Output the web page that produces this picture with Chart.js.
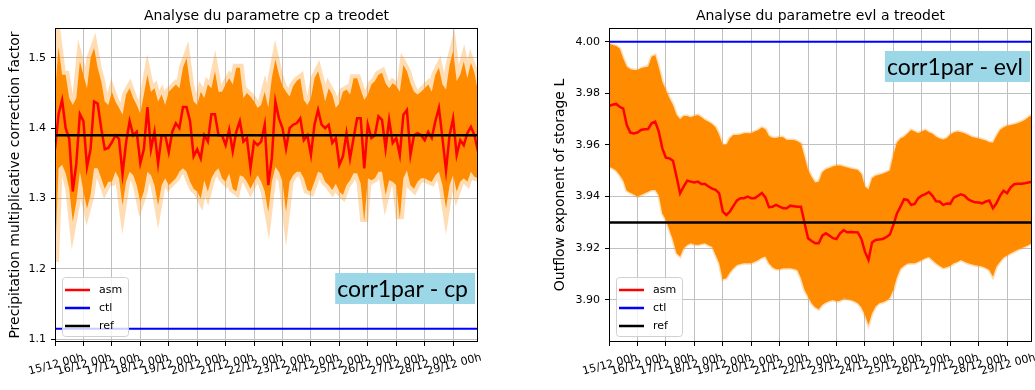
<!DOCTYPE html>
<html>
<head>
<meta charset="utf-8">
<script src="https://cdn.jsdelivr.net/npm/chart.js@4.4.1/dist/chart.umd.min.js"></script>
<style>
  html, body { margin: 0; padding: 0; background: #fff; }
  #wrap { position: relative; width: 1035px; height: 390px; }
  #cpChart { position: absolute; left: 0; top: 0; }
  #evlChart { position: absolute; left: 520px; top: 0; }
</style>
</head>
<body>
<div id="wrap">
  <canvas id="cpChart" width="500" height="390"></canvas>
  <canvas id="evlChart" width="515" height="390"></canvas>
</div>
<script>
// pas de temps de 3 h, du 15/12 00h au 29/12 21h
const STEP_H = 3;

const dayLabels = ['15/12 00h', '16/12 00h', '17/12 00h', '18/12 00h', '19/12 00h',
  '20/12 00h', '21/12 00h', '22/12 00h', '23/12 00h', '24/12 00h',
  '25/12 00h', '26/12 00h', '27/12 00h', '28/12 00h', '29/12 00h'];

// ---- parametre cp ----
const cpTicks = [1.1, 1.2, 1.3, 1.4, 1.5];
const cpCtl = 1.115;
const cpRef = 1.39;
const cpAsm = [
  1.37, 1.42, 1.44, 1.40, 1.385, 1.31, 1.35, 1.42, 1.41, 1.345,
  1.37, 1.438, 1.435, 1.40, 1.37, 1.372, 1.38, 1.39, 1.385, 1.335,
  1.38, 1.41, 1.39, 1.395, 1.35, 1.37, 1.43, 1.37, 1.395, 1.35,
  1.39, 1.39, 1.366, 1.395, 1.407, 1.40, 1.43, 1.43, 1.41, 1.36,
  1.37, 1.357, 1.39, 1.381, 1.42, 1.42, 1.39, 1.39, 1.376, 1.398,
  1.367, 1.395, 1.41, 1.381, 1.386, 1.343, 1.381, 1.376, 1.381, 1.405,
  1.319, 1.357, 1.438, 1.414, 1.40, 1.371, 1.40, 1.405, 1.407, 1.414,
  1.383, 1.39, 1.362, 1.405, 1.426, 1.405, 1.40, 1.405, 1.379, 1.386,
  1.348, 1.36, 1.393, 1.357, 1.386, 1.414, 1.414, 1.343, 1.405, 1.386,
  1.39, 1.417, 1.412, 1.371, 1.412, 1.379, 1.386, 1.362, 1.419, 1.426,
  1.362, 1.39, 1.393, 1.39, 1.383, 1.395, 1.386, 1.41, 1.429, 1.386,
  1.34, 1.39, 1.414, 1.362, 1.383, 1.376, 1.393, 1.402, 1.39, 1.367
];
// enveloppe haute / basse de l'ensemble
const cpHi = [
  1.45, 1.515, 1.476, 1.476, 1.443, 1.433, 1.443, 1.495, 1.476, 1.457,
  1.50, 1.514, 1.486, 1.467, 1.438, 1.433, 1.452, 1.438, 1.429, 1.419,
  1.448, 1.457, 1.443, 1.433, 1.421, 1.448, 1.476, 1.452, 1.457, 1.438,
  1.448, 1.433, 1.452, 1.457, 1.462, 1.457, 1.486, 1.50, 1.462, 1.438,
  1.433, 1.452, 1.443, 1.462, 1.457, 1.481, 1.452, 1.452, 1.462, 1.471,
  1.462, 1.486, 1.486, 1.443, 1.45, 1.445, 1.438, 1.429, 1.433, 1.452,
  1.429, 1.471, 1.498, 1.476, 1.46, 1.452, 1.445, 1.46, 1.467, 1.471,
  1.44, 1.433, 1.443, 1.471, 1.481, 1.462, 1.438, 1.457, 1.448, 1.429,
  1.435, 1.452, 1.455, 1.448, 1.471, 1.471, 1.455, 1.44, 1.448, 1.462,
  1.467, 1.476, 1.479, 1.464, 1.457, 1.464, 1.46, 1.452, 1.49, 1.481,
  1.464, 1.452, 1.448, 1.452, 1.457, 1.462, 1.452, 1.476, 1.486, 1.462,
  1.455, 1.49, 1.51, 1.467, 1.476, 1.495, 1.471, 1.493, 1.479, 1.452
];
const cpLo = [
  1.21, 1.343, 1.348, 1.336, 1.314, 1.267, 1.295, 1.338, 1.31, 1.286,
  1.305, 1.343, 1.343, 1.329, 1.314, 1.324, 1.324, 1.338, 1.329, 1.29,
  1.324, 1.338, 1.333, 1.319, 1.295, 1.31, 1.338, 1.333, 1.319, 1.29,
  1.319, 1.329, 1.319, 1.324, 1.329, 1.338, 1.343, 1.338, 1.324, 1.314,
  1.31, 1.30, 1.326, 1.31, 1.329, 1.338, 1.343, 1.329, 1.324, 1.336,
  1.314, 1.31, 1.333, 1.331, 1.324, 1.314, 1.324, 1.333, 1.324, 1.31,
  1.281, 1.324, 1.345, 1.338, 1.324, 1.281, 1.324, 1.333, 1.338, 1.338,
  1.329, 1.312, 1.31, 1.324, 1.338, 1.336, 1.324, 1.319, 1.312, 1.321,
  1.31, 1.305, 1.319, 1.326, 1.336, 1.336, 1.321, 1.267, 1.329, 1.326,
  1.329, 1.338, 1.338, 1.305, 1.326, 1.324, 1.319, 1.271, 1.329, 1.34,
  1.319, 1.314, 1.324, 1.329, 1.329, 1.326, 1.324, 1.333, 1.338, 1.319,
  1.286, 1.319, 1.333, 1.31, 1.324, 1.329, 1.324, 1.338, 1.331, 1.329
];

// ---- parametre evl ----
const evlTicks = [3.90, 3.92, 3.94, 3.96, 3.98, 4.00];
const evlCtl = 4.00;
const evlRef = 3.93;
const evlAsm = [
  3.9751, 3.9756, 3.9759, 3.9748, 3.9741, 3.9677, 3.9648, 3.9645, 3.9648, 3.9658,
  3.9661, 3.9662, 3.9684, 3.969, 3.9652, 3.9587, 3.9551, 3.9548, 3.9539, 3.9477,
  3.9413, 3.9439, 3.9462, 3.9458, 3.9455, 3.9458, 3.9449, 3.9449, 3.9439, 3.9431,
  3.9426, 3.9413, 3.9342, 3.9329, 3.9342, 3.9364, 3.9385, 3.9394, 3.9394, 3.94,
  3.9394, 3.9394, 3.9403, 3.9414, 3.9397, 3.9359, 3.9361, 3.9368, 3.9361, 3.9355,
  3.9355, 3.9365, 3.9363, 3.9361, 3.9361, 3.9299, 3.9239, 3.9228, 3.9219, 3.9219,
  3.9249, 3.9258, 3.9249, 3.9239, 3.9236, 3.9258, 3.927, 3.9262, 3.9263, 3.9262,
  3.9261, 3.9236, 3.9187, 3.9155, 3.9222, 3.9232, 3.9234, 3.9236, 3.9243, 3.9253,
  3.929, 3.9335, 3.9361, 3.939, 3.9387, 3.9368, 3.9372, 3.9394, 3.9404, 3.941,
  3.9418, 3.9403, 3.9382, 3.9381, 3.9368, 3.9373, 3.9372, 3.9396, 3.9403, 3.9409,
  3.9404, 3.939, 3.9383, 3.9378, 3.9377, 3.9374, 3.9381, 3.9385, 3.9355, 3.9374,
  3.9403, 3.9423, 3.9413, 3.9436, 3.9448, 3.945, 3.945, 3.9452, 3.9455, 3.9458
];
const evlHi = [
  3.9994, 3.9987, 3.9983, 3.9974, 3.9935, 3.9903, 3.9893, 3.989, 3.989, 3.9897,
  3.9901, 3.9903, 3.9942, 3.9948, 3.9901, 3.9845, 3.9813, 3.9781, 3.9755, 3.9716,
  3.97, 3.9712, 3.9712, 3.9707, 3.9712, 3.9716, 3.9707, 3.9697, 3.969, 3.9681,
  3.9668, 3.9639, 3.96, 3.96, 3.9626, 3.9639, 3.9639, 3.9641, 3.9645, 3.9645,
  3.9645, 3.9652, 3.9658, 3.9668, 3.9661, 3.9635, 3.9628, 3.9627, 3.9631, 3.963,
  3.9619, 3.9619, 3.9619, 3.9614, 3.9606, 3.9555, 3.9503, 3.9476, 3.9455, 3.9458,
  3.9494, 3.9506, 3.9511, 3.9517, 3.9521, 3.9521, 3.9517, 3.9513, 3.9509, 3.9506,
  3.9503, 3.9488, 3.9439, 3.9428, 3.9471, 3.9481, 3.9485, 3.9489, 3.9494, 3.9501,
  3.9561, 3.9609, 3.9625, 3.9632, 3.9644, 3.9658, 3.9652, 3.9645, 3.9652, 3.9658,
  3.9649, 3.9643, 3.9632, 3.9625, 3.9621, 3.9626, 3.9641, 3.9648, 3.9652, 3.9649,
  3.9645, 3.9639, 3.9632, 3.9628, 3.9625, 3.9621, 3.9617, 3.9611, 3.9609, 3.9635,
  3.9658, 3.9668, 3.9674, 3.9677, 3.968, 3.9684, 3.969, 3.9697, 3.9707, 3.9716
];
const evlLo = [
  3.9516, 3.951, 3.9501, 3.9484, 3.9462, 3.9423, 3.9415, 3.9408, 3.94, 3.9406,
  3.9413, 3.9419, 3.9426, 3.9426, 3.9406, 3.9335, 3.931, 3.9271, 3.9232, 3.9181,
  3.9168, 3.92, 3.9213, 3.9219, 3.9215, 3.9213, 3.9217, 3.9219, 3.9212, 3.9206,
  3.9174, 3.9142, 3.908, 3.9084, 3.9106, 3.9123, 3.9135, 3.9139, 3.9142, 3.9142,
  3.9142, 3.9148, 3.9155, 3.9163, 3.9168, 3.9142, 3.9126, 3.9119, 3.9119, 3.9123,
  3.9123, 3.9123, 3.912, 3.9116, 3.9084, 3.9039, 3.9013, 3.8987, 3.8972, 3.8964,
  3.8981, 3.899, 3.8996, 3.90, 3.8995, 3.8997, 3.9005, 3.9004, 3.90, 3.8995,
  3.8987, 3.8972, 3.8942, 3.8903, 3.8948, 3.8974, 3.8987, 3.8991, 3.8997, 3.9008,
  3.9039, 3.9088, 3.9121, 3.9132, 3.9141, 3.9142, 3.9142, 3.9148, 3.9155, 3.9161,
  3.9166, 3.9155, 3.9142, 3.9132, 3.9124, 3.9126, 3.9132, 3.9142, 3.9147, 3.9155,
  3.9148, 3.9142, 3.9138, 3.9134, 3.9132, 3.9129, 3.9124, 3.9116, 3.909, 3.9129,
  3.9148, 3.9164, 3.9172, 3.9181, 3.9187, 3.9194, 3.92, 3.9206, 3.9213, 3.9219
];

const FONT = 'DejaVu Sans';
Chart.defaults.font.family = FONT;
Chart.defaults.color = '#000';

const toPts = arr => arr.map((v, i) => ({ x: i * STEP_H, y: v }));
const flat = (v, n) => [{ x: 0, y: v }, { x: (n - 1) * STEP_H, y: v }];

// titre, cadre, etiquettes de dates inclinees, legende et cartouche
const decor = {
  id: 'decor',
  afterDraw(chart, args, o) {
    const { ctx, chartArea: a } = chart;
    ctx.save();

    ctx.strokeStyle = '#000';
    ctx.lineWidth = 1;
    ctx.strokeRect(Math.round(a.left) + 0.5, Math.round(a.top) + 0.5,
      Math.round(a.right - a.left) - 1, Math.round(a.bottom - a.top) - 1);

    ctx.fillStyle = '#000';
    ctx.font = `14px "${FONT}"`;
    ctx.textAlign = 'center';
    ctx.textBaseline = 'middle';
    ctx.fillText(o.title, (a.left + a.right) / 2, 16);

    // dates sous l'axe x, tournees de 15 degres
    const xs = chart.scales.x;
    const rot = 15 * Math.PI / 180;
    ctx.font = `11px "${FONT}"`;
    xs.ticks.forEach(t => {
      const txt = dayLabels[Math.round(t.value / 24)];
      const w = ctx.measureText(txt).width;
      const bh = w * Math.sin(rot) + 11 * Math.cos(rot);
      ctx.save();
      ctx.translate(xs.getPixelForValue(t.value) + 1, a.bottom + 10 + bh / 2);
      ctx.rotate(-rot);
      ctx.fillText(txt, 0, 0);
      ctx.restore();
    });

    // legende en bas a gauche
    const bx = a.left + 7, by = a.bottom - 65, bw = 66, bhh = 59;
    ctx.beginPath();
    ctx.roundRect(bx + 0.5, by + 0.5, bw, bhh, 3);
    ctx.fillStyle = 'rgba(255,255,255,0.8)';
    ctx.fill();
    ctx.strokeStyle = '#d0d0d0';
    ctx.stroke();
    ctx.textAlign = 'left';
    ['asm', 'ctl', 'ref'].forEach((name, k) => {
      const ds = chart.data.datasets.find(d => d.label === name);
      const y = by + 13 + k * 18;
      ctx.beginPath();
      ctx.moveTo(bx + 3, y);
      ctx.lineTo(bx + 28, y);
      ctx.strokeStyle = ds.borderColor;
      ctx.lineWidth = 2.5;
      ctx.stroke();
      ctx.fillStyle = '#000';
      ctx.fillText(name, bx + 37, y);
    });

    // cartouche du cas
    ctx.font = '23px Lato';
    const tw = ctx.measureText(o.tag).width;
    const tx1 = a.right - o.tagRight, tx0 = tx1 - tw - 9;
    const ty0 = a.top + o.tagTop;
    ctx.fillStyle = '#9bd7e7';
    ctx.fillRect(tx0, ty0, tx1 - tx0, 31);
    ctx.fillStyle = '#000';
    ctx.textBaseline = 'alphabetic';
    ctx.fillText(o.tag, tx0 + 2, ty0 + 24);

    ctx.restore();
  }
};

function makeChart(id, p) {
  const n = p.asm.length;
  const fringe = 'rgba(255,140,0,0.3)';
  return new Chart(document.getElementById(id), {
    type: 'line',
    data: {
      datasets: [
        { label: 'ref', data: flat(p.ref, n), borderColor: '#000000', borderWidth: 2.5 },
        { label: 'asm', data: toPts(p.asm), borderColor: '#ff0000', borderWidth: 2.5 },
        { label: 'ctl', data: flat(p.ctl, n), borderColor: '#0000ff', borderWidth: 2 },
        { data: toPts(p.hi), borderColor: fringe, borderWidth: p.fringe, backgroundColor: '#ff8c00', fill: '+1' },
        { data: toPts(p.lo), borderColor: fringe, borderWidth: p.fringe, fill: false }
      ]
    },
    options: {
      responsive: false,
      animation: false,
      devicePixelRatio: 1,
      layout: { padding: p.padding },
      elements: { point: { radius: 0 }, line: { tension: 0 } },
      datasets: { line: { clip: 0 } },
      scales: {
        x: {
          type: 'linear',
          min: 0,
          max: (n - 1) * STEP_H,
          afterBuildTicks: s => { s.ticks = dayLabels.map((_, k) => ({ value: k * 24 })); },
          afterFit: s => { s.height = 48; s.paddingLeft = 0; s.paddingRight = 0; },
          ticks: { display: false },
          grid: { color: '#c0c0c0', tickColor: '#000', tickLength: 4 },
          border: { display: false }
        },
        y: {
          min: p.yMin,
          max: p.yMax,
          afterBuildTicks: s => { s.ticks = p.ticks.map(v => ({ value: v })); },
          afterFit: s => { s.width = p.yWidth; },
          ticks: {
            callback: v => v.toFixed(p.dec),
            font: { family: FONT, size: 11 },
            color: '#000',
            padding: 5
          },
          grid: { color: '#c0c0c0', tickColor: '#000', tickLength: 4 },
          border: { display: false },
          title: {
            display: true,
            text: p.yTitle,
            font: { family: FONT, size: 14 },
            color: '#000',
            padding: { top: 2, bottom: 4 }
          }
        }
      },
      plugins: {
        legend: { display: false },
        tooltip: { enabled: false },
        decor: { title: p.title, tag: p.tag, tagRight: p.tagRight, tagTop: p.tagTop }
      }
    },
    plugins: [decor]
  });
}

makeChart('cpChart', {
  asm: cpAsm, hi: cpHi, lo: cpLo, ctl: cpCtl, ref: cpRef,
  ticks: cpTicks, dec: 1, yMin: 1.096, yMax: 1.5425,
  yTitle: 'Precipitation multiplicative correction factor',
  title: 'Analyse du parametre cp a treodet',
  tag: 'corr1par - cp', tagRight: 3, tagTop: 245,
  padding: { left: 5, top: 28, right: 22, bottom: 0 }, yWidth: 50, fringe: 8
});

makeChart('evlChart', {
  asm: evlAsm, hi: evlHi, lo: evlLo, ctl: evlCtl, ref: evlRef,
  ticks: evlTicks, dec: 2, yMin: 3.8837, yMax: 4.0053,
  yTitle: 'Outflow exponent of storage L',
  title: 'Analyse du parametre evl a treodet',
  tag: 'corr1par - evl', tagRight: 2, tagTop: 23,
  padding: { left: 30, top: 28, right: 3, bottom: 0 }, yWidth: 59, fringe: 3
});
</script>
</body>
</html>
